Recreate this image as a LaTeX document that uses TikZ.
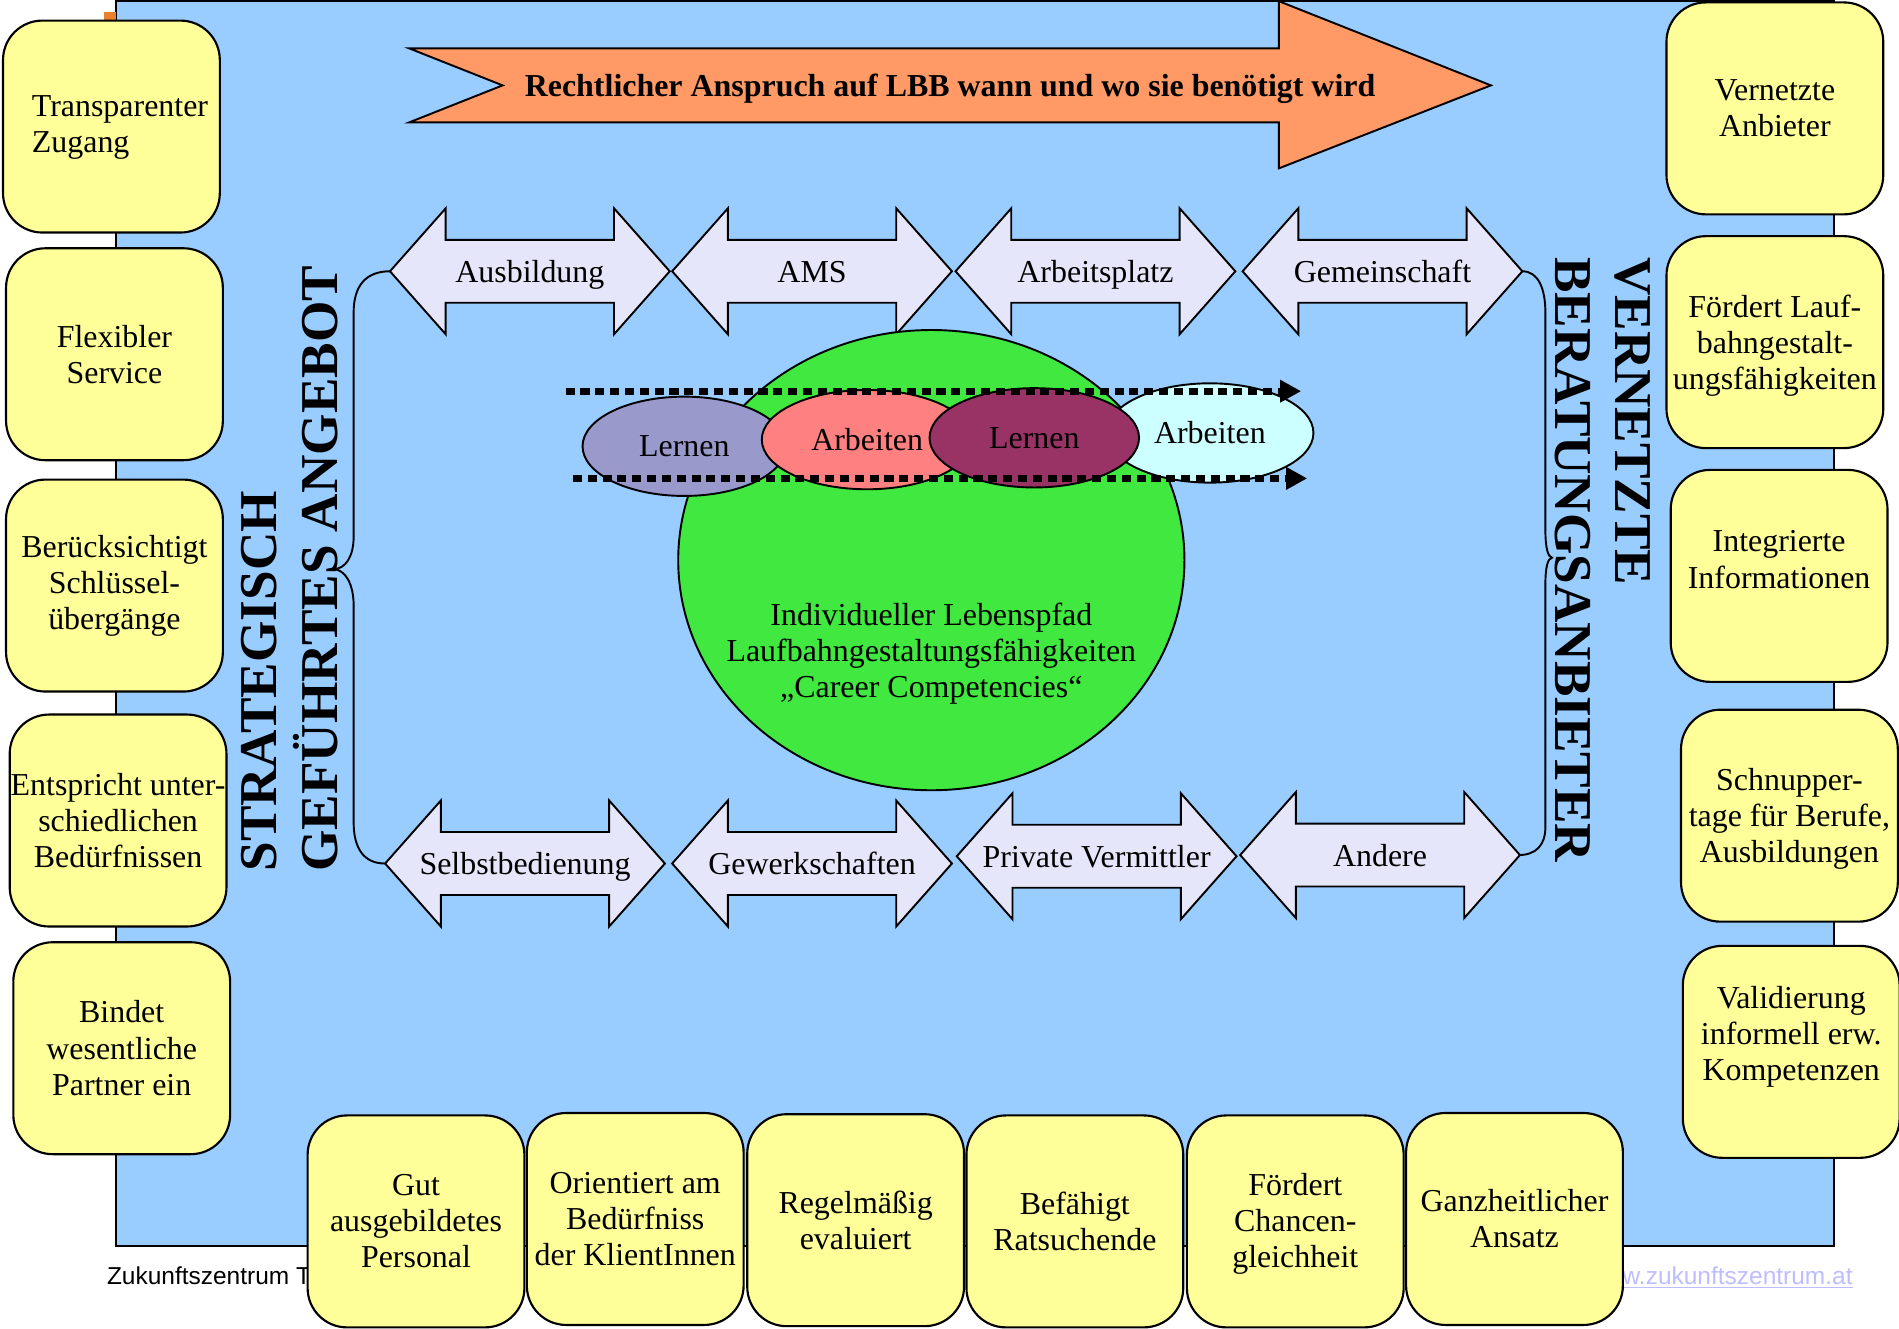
\documentclass[tikz,border=0pt]{standalone}
\usepackage{fontspec}
\setmainfont{Liberation Serif}
\newfontfamily\footfont{Liberation Sans}
\usetikzlibrary{shapes.geometric,arrows.meta}

\definecolor{panelblue}{HTML}{99CCFF}
\definecolor{boxyellow}{HTML}{FFFF99}
\definecolor{lbborange}{HTML}{FF9966}
\definecolor{ochre}{HTML}{E8822E}
\definecolor{arrowlilac}{HTML}{E6E6FA}
\definecolor{pathgreen}{HTML}{40E840}
\definecolor{lernlilac}{HTML}{9999CC}
\definecolor{arbsalmon}{HTML}{FF8080}
\definecolor{lernplum}{HTML}{993366}
\definecolor{arbcyan}{HTML}{CCFFFF}
\definecolor{urlblue}{HTML}{BDBDFF}

\tikzset{
  ybox/.style={draw, line width=1pt, fill=boxyellow, rounded corners=6.5mm,
    minimum width=35.8mm, minimum height=35mm, inner sep=0pt, align=center},
  dblarrow/.style={draw, line width=0.9pt, fill=arrowlilac},
  dblshape/.style={insert path={-- ++(46,-52) -- ++(0,26) -- ++(139,0) -- ++(0,-26)
    -- ++(46,52) -- ++(-46,52) -- ++(0,-26) -- ++(-139,0) -- ++(0,26) -- cycle}},
  arrowlabel/.style={text height=0.68em, text depth=0.2em, yshift=-1mm},
  phase/.style={ellipse, draw, line width=0.9pt, minimum height=16.4mm, inner sep=0pt},
  dotarrow/.style={line width=1.1mm, dash pattern=on 1.5mm off 0.95mm,
    -{Triangle[length=3.4mm,width=3.8mm,line width=0pt]}},
  curlybrace/.style={line width=0.9pt},
  vtitle/.style={font=\fontsize{25}{28}\selectfont\bfseries, inner sep=0pt},
  footer/.style={font=\footfont\fontsize{11.5}{13}\selectfont, inner sep=0pt}
}

\begin{document}
\begin{tikzpicture}[x=0.2mm, y=-0.2mm, font=\fontsize{15}{17}\selectfont]
  \useasboundingbox (0,0) rectangle (1568,1097);

  \draw[line width=1pt, fill=panelblue] (96,1) rectangle (1514.5,1029);
  \fill[ochre] (86,10) rectangle (95.5,17);

  \node[footer, anchor=base west] (zz) at (88,1060.5) {Zukunftszentrum T};
  \node[footer, anchor=base east, text=urlblue] (www) at (1530,1060.5) {\underline{www.zukunftszentrum.at}};

  % legal claim
  \draw[line width=0.9pt, fill=lbborange] (338,40) -- (415,70.5) -- (338,101) -- (1056,101)
    -- (1056,139) -- (1231,70.5) -- (1056,1) -- (1056,40) -- cycle;
  \node[font=\fontsize{15}{17}\selectfont\bfseries, arrowlabel] (anspruch) at (784.5,70.5) {Rechtlicher Anspruch auf LBB wann und wo sie benötigt wird};

  % partners
  \draw[dblarrow] (322,224) [dblshape];
  \draw[dblarrow] (555,224) [dblshape];
  \draw[dblarrow] (789,224) [dblshape];
  \draw[dblarrow] (1026,224) [dblshape];
  \draw[dblarrow] (318,713) [dblshape];
  \draw[dblarrow] (555,713) [dblshape];
  \draw[dblarrow] (790,707) [dblshape];
  \draw[dblarrow] (1024,706) [dblshape];
  \draw[every node/.style={arrowlabel}]
    (437.5,224) node (ausb){Ausbildung}
    (670.5,224) node (ams){AMS}
    (904.5,224) node (arbpl){Arbeitsplatz}
    (1141.5,224) node (gemein){Gemeinschaft}
    (433.5,713) node (selbst){Selbstbedienung}
    (670.5,713) node (gewerk){Gewerkschaften}
    (905.5,707) node (privat){Private Vermittler}
    (1139.5,706) node (andere){Andere};
  \coordinate (ausbtip) at (322,224);
  \coordinate (selbsttip) at (318,713);
  \coordinate (gemeintip) at (1257,224);
  \coordinate (anderetip) at (1254,706);

  % life path
  \node[ellipse, draw, line width=0.9pt, fill=pathgreen, minimum width=83.6mm, minimum height=76mm] (pfad) at (769,462.5) {};
  \node[align=center] (pfadtxt) at (769,539.5) {Individueller Lebenspfad\\Laufbahngestaltungsfähigkeiten\\„Career Competencies“};
  \node[phase, fill=lernlilac, minimum width=33.6mm] (lern1) at (565,368.5) {Lernen};
  \node[phase, fill=arbsalmon, minimum width=34.8mm] (arb1) at (716,363) {Arbeiten};
  \node[phase, fill=arbcyan, minimum width=34.2mm] (arb2) at (999,357.5) {Arbeiten};
  \node[phase, fill=lernplum, minimum width=34.6mm] (lern2) at (854,361.5) {Lernen};
  \coordinate (dot1a) at (467,323);
  \coordinate (dot1b) at (1074,323);
  \coordinate (dot2a) at (473,395);
  \coordinate (dot2b) at (1079,395);
  \draw[dotarrow] (dot1a) -- (dot1b);
  \draw[dotarrow] (dot2a) -- (dot2b);

  % braces
  \draw[curlybrace] (ausbtip) .. controls (302,224) and (292,236) .. (292,258) -- (292,443)
    .. controls (292,460) and (285,470) .. (275,470) .. controls (285,470) and (292,482) .. (292,500)
    -- (292,679) .. controls (292,700) and (300,713) .. (selbsttip);
  \draw[curlybrace] (gemeintip) .. controls (1270,224) and (1276,238) .. (1276,258) -- (1276,437)
    .. controls (1276,452) and (1278,460) .. (1281.5,460.5) .. controls (1278,461) and (1276,468) .. (1276,483)
    -- (1276,683) .. controls (1276,698) and (1268,706) .. (anderetip);

  \node[vtitle, rotate=90, anchor=base west] (strat) at (228.5,720) {STRATEGISCH};
  \node[vtitle, rotate=90, anchor=base west] (gefuehrt) at (279,720) {GEFÜHRTES ANGEBOT};
  \node[vtitle, rotate=-90, anchor=base west] (vernetzt) at (1333.5,212) {VERNETZTE};
  \node[vtitle, rotate=-90, anchor=base west] (beratung) at (1284,212) {BERATUNGSANBIETER};

  % quality features
  \draw
    (92,104.5) node[ybox] (zugang){}
    (94.5,292.5) node[ybox] (flex){Flexibler\\Service}
    (94.5,483.5) node[ybox] (schluessel){Berücksichtigt\\Schlüssel-\\übergänge}
    (97.5,677.5) node[ybox] (bedarf){Entspricht unter-\\schiedlichen\\Bedürfnissen}
    (100.5,865.5) node[ybox] (partner){Bindet\\wesentliche\\Partner ein}
    (1465.5,89.5) node[ybox] (anbieter){Vernetzte\\Anbieter}
    (1465.5,282.5) node[ybox] (laufbahn){}
    (1469,475.5) node[ybox] (info){}
    (1477.5,673.5) node[ybox] (schnupper){}
    (1479,868.5) node[ybox] (valid){}
    (343.5,1008.5) node[ybox] (personal){Gut\\ausgebildetes\\Personal}
    (524.5,1006.5) node[ybox] (klient){Orientiert am\\Bedürfniss\\der KlientInnen}
    (706.5,1007.5) node[ybox] (eval){Regelmäßig\\evaluiert}
    (887.5,1008.5) node[ybox] (rat){Befähigt\\Ratsuchende}
    (1069.5,1008.5) node[ybox] (chancen){}
    (1250.5,1006.5) node[ybox] (ganz){Ganzheitlicher\\Ansatz};
  \node[align=left, anchor=west, inner sep=0pt] (zugangtxt) at (26,105) {Transparenter\\Zugang};
  \node[align=center] (laufbahntxt) at (1465.5,285.5) {Fördert Lauf-\\bahngestalt-\\ungsfähigkeiten};
  \node[align=center] (infotxt) at (1469,462) {Integrierte\\Informationen};
  \node[align=center] (schnuppertxt) at (1477.5,676) {Schnupper-\\tage für Berufe,\\Ausbildungen};
  \node[align=center] (validtxt) at (1479,856) {Validierung\\informell erw.\\Kompetenzen};
  \node[align=center] (chancentxt) at (1069.5,1010.5) {Fördert\\Chancen-\\gleichheit};
\end{tikzpicture}
\end{document}
